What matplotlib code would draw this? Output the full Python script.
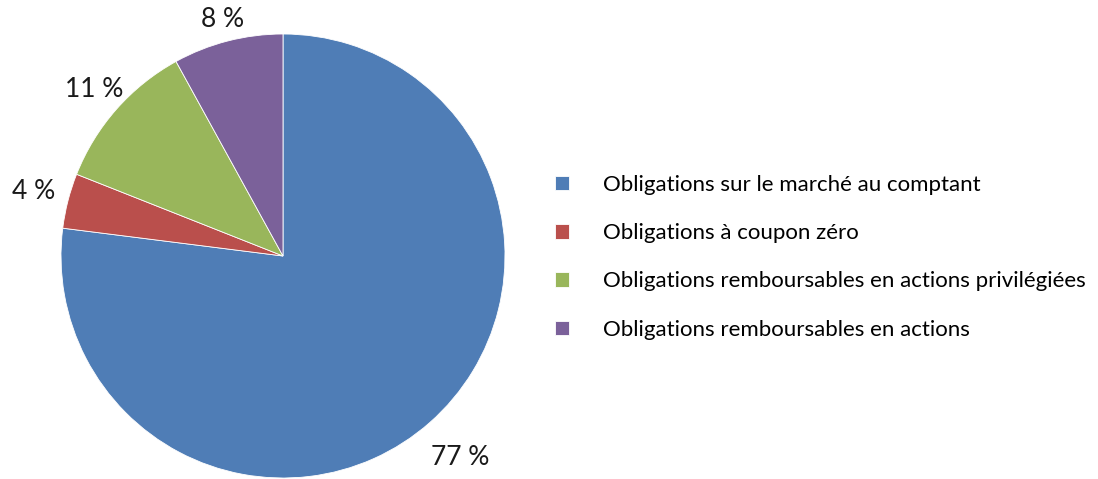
import numpy as np
import matplotlib.pyplot as plt

categories = ['Obligations sur le marché au comptant',
              'Obligations à coupon zéro',
              'Obligations remboursables en actions privilégiées',
              'Obligations remboursables en actions']
shares = [77, 4, 11, 8]
colors = ['#4F7DB6', '#BA4F4C', '#99B65B', '#7B619A']
# how far out each percentage label sits (in pie radii)
label_dist = [1.21, 1.16, 1.135, 1.10]

plt.rcParams['font.family'] = ['Lato', 'DejaVu Sans']

W, H = 1098, 479
fig = plt.figure(figsize=(W / 100, H / 100), dpi=100)

# pie centre (283, 256) px, radius 222 px
cx, cy, r = 283, 479 - 256, 222
ax = fig.add_axes([(cx - r) / W, (cy - r) / H, 2 * r / W, 2 * r / H])
wedges, texts, autotexts = ax.pie(shares, colors=colors, startangle=90,
                                  counterclock=False, radius=1,
                                  autopct='%.0f %%', pctdistance=1.15,
                                  wedgeprops=dict(edgecolor='white', linewidth=0.6),
                                  textprops=dict(fontsize=19, color='#1a1a1a'))
for w, t, d in zip(wedges, autotexts, label_dist):
    mid = np.deg2rad((w.theta1 + w.theta2) / 2)
    t.set_position((d * np.cos(mid), d * np.sin(mid)))
ax.set_xlim(-1, 1)
ax.set_ylim(-1, 1)
ax.set_aspect('equal')
ax.axis('off')

fig.legend(wedges, categories, loc='upper left',
           bbox_to_anchor=(555 / W, (479 - 175) / H),
           frameon=False, fontsize=16, borderpad=0, borderaxespad=0,
           handlelength=0.63, handleheight=0.63, handletextpad=1.53,
           labelspacing=1.27)

fig.savefig('out.png', dpi=100)
